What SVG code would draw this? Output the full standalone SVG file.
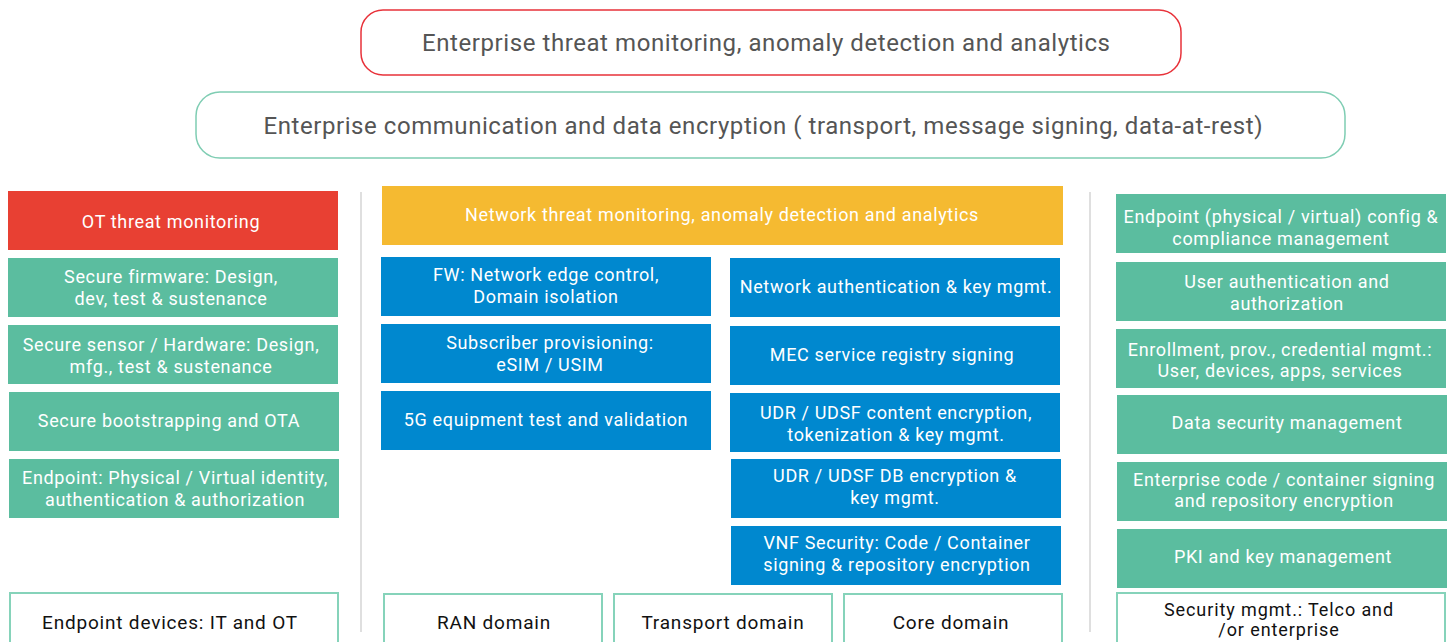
<svg xmlns="http://www.w3.org/2000/svg" width="1456" height="642" viewBox="0 0 1456 642">
<style>
text{font-family:Roboto,"Liberation Sans",sans-serif;text-anchor:middle;}
.w{fill:#ffffff;font-size:18px;letter-spacing:0.65px;}
.k{fill:#111111;font-size:19px;letter-spacing:0.8px;}
.ks{fill:#111111;font-size:18px;letter-spacing:0.9px;}
.h{fill:#555555;font-size:24px;}
.red{fill:#E84033;}
.grn{fill:#5BBD9F;}
.blu{fill:#0088CF;}
.yel{fill:#F5BA31;}
.out{fill:#ffffff;stroke:#86D3BA;stroke-width:2;}
.div{stroke:#D4D4D4;stroke-width:1.5;}
</style>
<rect width="1456" height="642" fill="#ffffff"/>
<g id="top-enterprise-threat">
<rect x="361" y="10" width="820" height="65" rx="22" fill="#ffffff" stroke="#E8323A" stroke-width="1.5"/>
<text class="h" x="766" y="51" textLength="688" lengthAdjust="spacing">Enterprise threat monitoring, anomaly detection and analytics</text>
</g>
<g id="top-enterprise-encryption">
<rect x="196" y="92" width="1149" height="66" rx="24" fill="#ffffff" stroke="#7FCDB3" stroke-width="1.5"/>
<text class="h" x="763" y="134" textLength="999" lengthAdjust="spacing">Enterprise communication and data encryption ( transport, message signing, data-at-rest)</text>
</g>
<g id="dividers">
<line class="div" x1="361" y1="192" x2="361" y2="632"/>
<line class="div" x1="1090" y1="192" x2="1090" y2="632"/>
</g>
<g id="ot-threat"><rect class="red" x="8" y="191" width="330" height="59"/><text class="w" x="171" y="228">OT threat monitoring</text></g>
<g id="secure-firmware"><rect class="grn" x="8" y="258" width="330" height="59"/><text class="w" x="171" y="283">Secure firmware: Design,</text><text class="w" x="171" y="305">dev, test &amp; sustenance</text></g>
<g id="secure-sensor"><rect class="grn" x="8" y="325" width="330" height="59"/><text class="w" x="171" y="351">Secure sensor / Hardware: Design,</text><text class="w" x="171" y="373">mfg., test &amp; sustenance</text></g>
<g id="secure-bootstrap"><rect class="grn" x="9" y="392" width="330" height="59"/><text class="w" x="169" y="427">Secure bootstrapping and OTA</text></g>
<g id="endpoint-identity"><rect class="grn" x="9" y="459" width="330" height="59"/><text class="w" x="175" y="484">Endpoint: Physical / Virtual identity,</text><text class="w" x="175" y="506">authentication &amp; authorization</text></g>
<g id="endpoint-devices"><rect class="out" x="10" y="593" width="328" height="70"/><text class="k" x="170" y="629">Endpoint devices: IT and OT</text></g>

<g id="network-threat"><rect class="yel" x="382" y="186" width="681" height="59"/><text class="w" x="722" y="221">Network threat monitoring, anomaly detection and analytics</text></g>
<g id="fw-edge"><rect class="blu" x="381" y="257" width="330" height="59"/><text class="w" x="546" y="281">FW: Network edge control,</text><text class="w" x="546" y="303">Domain isolation</text></g>
<g id="subscriber"><rect class="blu" x="381" y="324" width="330" height="59"/><text class="w" x="550" y="349">Subscriber provisioning:</text><text class="w" x="550" y="371">eSIM / USIM</text></g>
<g id="equip-test"><rect class="blu" x="381" y="391" width="330" height="59"/><text class="w" x="546" y="426">5G equipment test and validation</text></g>
<g id="net-auth"><rect class="blu" x="730" y="258" width="330" height="59"/><text class="w" x="896" y="293">Network authentication &amp; key mgmt.</text></g>
<g id="mec"><rect class="blu" x="730" y="326" width="330" height="59"/><text class="w" x="892" y="361">MEC service registry signing</text></g>
<g id="udr-content"><rect class="blu" x="730" y="393" width="330" height="59"/><text class="w" x="896" y="419">UDR / UDSF content encryption,</text><text class="w" x="896" y="441">tokenization &amp; key mgmt.</text></g>
<g id="udr-db"><rect class="blu" x="731" y="459" width="330" height="59"/><text class="w" x="895" y="482">UDR / UDSF DB encryption &amp;</text><text class="w" x="895" y="504">key mgmt.</text></g>
<g id="vnf"><rect class="blu" x="731" y="526" width="330" height="59"/><text class="w" x="897" y="549">VNF Security: Code / Container</text><text class="w" x="897" y="571">signing &amp; repository encryption</text></g>
<g id="ran"><rect class="out" x="384" y="594" width="218" height="70"/><text class="k" x="494" y="629">RAN domain</text></g>
<g id="transport"><rect class="out" x="614" y="594" width="218" height="70"/><text class="k" x="723" y="629">Transport domain</text></g>
<g id="core"><rect class="out" x="844" y="594" width="218" height="70"/><text class="k" x="951" y="629">Core domain</text></g>

<g id="endpoint-config"><rect class="grn" x="1116" y="194" width="330" height="59"/><text class="w" x="1281" y="223">Endpoint (physical / virtual) config &amp;</text><text class="w" x="1281" y="245">compliance management</text></g>
<g id="user-auth"><rect class="grn" x="1116" y="262" width="330" height="59"/><text class="w" x="1287" y="288">User authentication and</text><text class="w" x="1287" y="310">authorization</text></g>
<g id="enrollment"><rect class="grn" x="1116" y="329" width="330" height="59"/><text class="w" x="1280" y="356">Enrollment, prov., credential mgmt.:</text><text class="w" x="1280" y="377">User, devices, apps, services</text></g>
<g id="data-security"><rect class="grn" x="1117" y="395" width="330" height="59"/><text class="w" x="1287" y="429">Data security management</text></g>
<g id="code-signing"><rect class="grn" x="1117" y="462" width="330" height="59"/><text class="w" x="1284" y="486">Enterprise code / container signing</text><text class="w" x="1284" y="507">and repository encryption</text></g>
<g id="pki"><rect class="grn" x="1117" y="529" width="330" height="59"/><text class="w" x="1283" y="563">PKI and key management</text></g>
<g id="security-mgmt"><rect class="out" x="1117" y="593" width="328" height="70"/><text class="ks" x="1279" y="616">Security mgmt.: Telco and</text><text class="ks" x="1279" y="636">/or enterprise</text></g>
</svg>
